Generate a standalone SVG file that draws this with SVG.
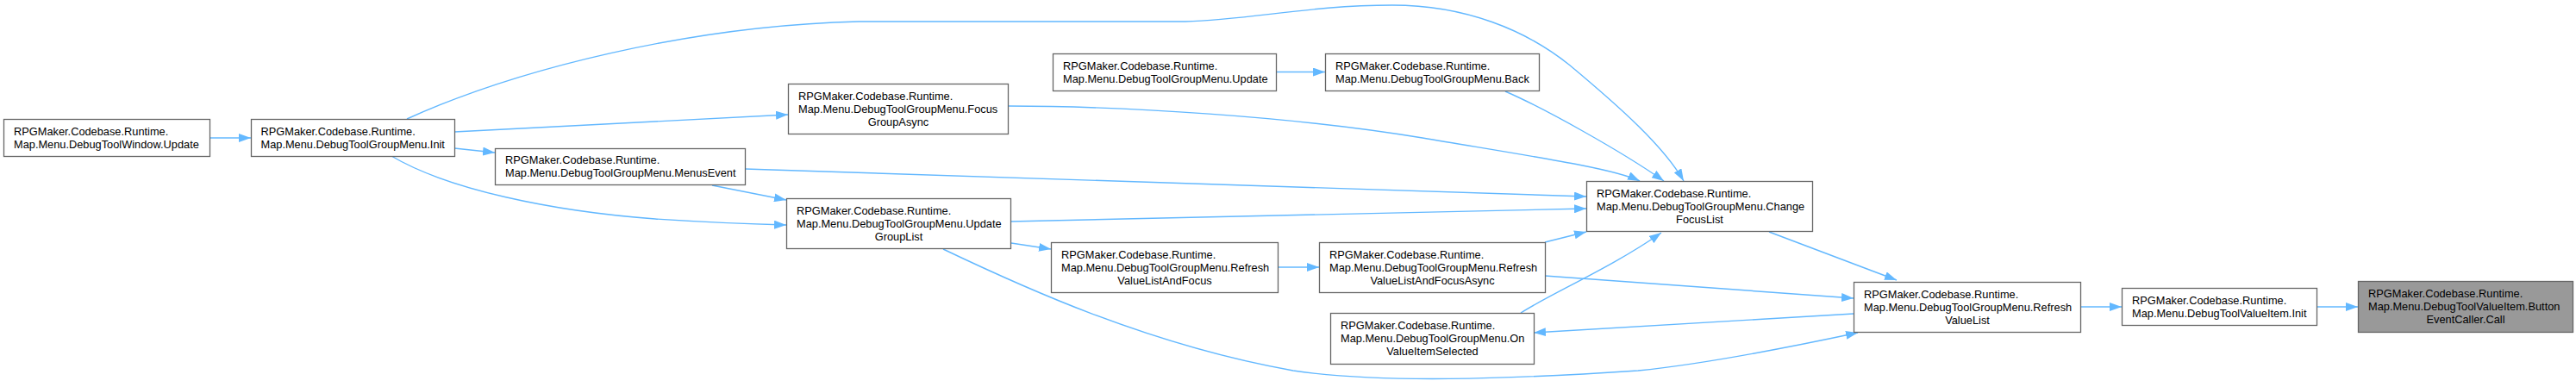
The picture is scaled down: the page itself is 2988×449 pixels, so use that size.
<svg xmlns="http://www.w3.org/2000/svg" width="2988" height="449" viewBox="0 0 2988 449">
<style>
.n rect{fill:#ffffff;stroke:#666666;stroke-width:1.3}
.n.hl rect{fill:#999999}
.n text{font-family:"Liberation Sans",Arial,sans-serif;font-size:12.8px;fill:#000000}
.n text.c{text-anchor:middle}
#edges path{fill:none;stroke:#63b8ff;stroke-width:1.4;marker-end:url(#ah)}
</style>
<defs>
<marker id="ah" markerWidth="15" markerHeight="10" refX="14" refY="5" orient="auto" markerUnits="userSpaceOnUse">
<path d="M0,0 L14,5 L0,10 z" fill="#63b8ff"/>
</marker>
</defs>
<rect width="2988" height="449" fill="#ffffff"/>
<g id="edges">
<path d="M243,160 L291,160"/>
<path d="M472,138 C600,80 800,30 996,25 L1375,25 C1450,23 1520,6 1615,6 C1700,6 1770,35 1820,75 C1880,125 1930,170 1953,210"/>
<path d="M527,153 L914,133"/>
<path d="M527,172 L574,177"/>
<path d="M454,181 C520,220 640,245 760,254 C820,258 870,260 912,261"/>
<path d="M1169,123 C1300,123 1500,135 1650,160 C1780,182 1870,195 1902,210"/>
<path d="M1480,83.5 L1537,83.5"/>
<path d="M1746,106 C1790,125 1880,175 1930,210"/>
<path d="M864,196 L1840,228"/>
<path d="M826,215 L912,232"/>
<path d="M1172,257 L1840,242"/>
<path d="M1173,282 L1219,289"/>
<path d="M1482,310 L1530,310"/>
<path d="M1792,281 L1840,269"/>
<path d="M1792,320 L2150,346"/>
<path d="M1764,363 C1800,340 1870,310 1927,270"/>
<path d="M2150,364 L1779,386"/>
<path d="M1094,289 C1180,330 1330,400 1500,430 C1600,445 1750,440 1900,430 C1980,422 2080,402 2155,386"/>
<path d="M2052,269 L2200,325"/>
<path d="M2413,356 L2461,356"/>
<path d="M2687,356 L2735,356"/>
</g>
<g id="n_dtw_update" class="n"><rect x="4.5" y="138.5" width="239" height="43"/><text x="16" y="156.5">RPGMaker.Codebase.Runtime.</text><text x="16" y="171.5">Map.Menu.DebugToolWindow.Update</text></g>
<g id="n_init" class="n"><rect x="291.5" y="138.5" width="236" height="43"/><text x="302.5" y="156.5">RPGMaker.Codebase.Runtime.</text><text x="302.5" y="171.5">Map.Menu.DebugToolGroupMenu.Init</text></g>
<g id="n_focusgroupasync" class="n"><rect x="914.5" y="97.5" width="255" height="58"/><text x="926" y="115.5">RPGMaker.Codebase.Runtime.</text><text x="926" y="130.5">Map.Menu.DebugToolGroupMenu.Focus</text><text class="c" x="1042" y="145.5">GroupAsync</text></g>
<g id="n_menusevent" class="n"><rect x="574.5" y="172.5" width="290" height="42"/><text x="586" y="190">RPGMaker.Codebase.Runtime.</text><text x="586" y="205">Map.Menu.DebugToolGroupMenu.MenusEvent</text></g>
<g id="n_updategrouplist" class="n"><rect x="912.5" y="230.5" width="260" height="58"/><text x="924" y="248.5">RPGMaker.Codebase.Runtime.</text><text x="924" y="263.5">Map.Menu.DebugToolGroupMenu.Update</text><text class="c" x="1042.5" y="278.5">GroupList</text></g>
<g id="n_update" class="n"><rect x="1221.5" y="62.5" width="259" height="43"/><text x="1233" y="80.5">RPGMaker.Codebase.Runtime.</text><text x="1233" y="95.5">Map.Menu.DebugToolGroupMenu.Update</text></g>
<g id="n_back" class="n"><rect x="1537.5" y="62.5" width="248" height="43"/><text x="1549" y="80.5">RPGMaker.Codebase.Runtime.</text><text x="1549" y="95.5">Map.Menu.DebugToolGroupMenu.Back</text></g>
<g id="n_changefocuslist" class="n"><rect x="1840.5" y="210.5" width="262" height="58"/><text x="1852" y="228.5">RPGMaker.Codebase.Runtime.</text><text x="1852" y="243.5">Map.Menu.DebugToolGroupMenu.Change</text><text class="c" x="1971.5" y="258.5">FocusList</text></g>
<g id="n_rvlaf" class="n"><rect x="1219.5" y="281.5" width="263" height="58"/><text x="1231" y="299.5">RPGMaker.Codebase.Runtime.</text><text x="1231" y="314.5">Map.Menu.DebugToolGroupMenu.Refresh</text><text class="c" x="1351" y="329.5">ValueListAndFocus</text></g>
<g id="n_rvlafa" class="n"><rect x="1530.5" y="281.5" width="262" height="58"/><text x="1542" y="299.5">RPGMaker.Codebase.Runtime.</text><text x="1542" y="314.5">Map.Menu.DebugToolGroupMenu.Refresh</text><text class="c" x="1661.5" y="329.5">ValueListAndFocusAsync</text></g>
<g id="n_onvalueitemselected" class="n"><rect x="1543.5" y="363.5" width="236" height="59"/><text x="1555" y="381.5">RPGMaker.Codebase.Runtime.</text><text x="1555" y="396.5">Map.Menu.DebugToolGroupMenu.On</text><text class="c" x="1661.5" y="411.5">ValueItemSelected</text></g>
<g id="n_refreshvaluelist" class="n"><rect x="2150.5" y="327.5" width="263" height="58"/><text x="2162" y="345.5">RPGMaker.Codebase.Runtime.</text><text x="2162" y="360.5">Map.Menu.DebugToolGroupMenu.Refresh</text><text class="c" x="2282" y="375.5">ValueList</text></g>
<g id="n_dtvi_init" class="n"><rect x="2461.5" y="334.5" width="226" height="43"/><text x="2473" y="352.5">RPGMaker.Codebase.Runtime.</text><text x="2473" y="367.5">Map.Menu.DebugToolValueItem.Init</text></g>
<g id="n_call" class="n hl"><rect x="2735.5" y="326.5" width="249" height="59"/><text x="2747" y="344.5">RPGMaker.Codebase.Runtime.</text><text x="2747" y="359.5">Map.Menu.DebugToolValueItem.Button</text><text class="c" x="2860" y="374.5">EventCaller.Call</text></g>
</svg>
